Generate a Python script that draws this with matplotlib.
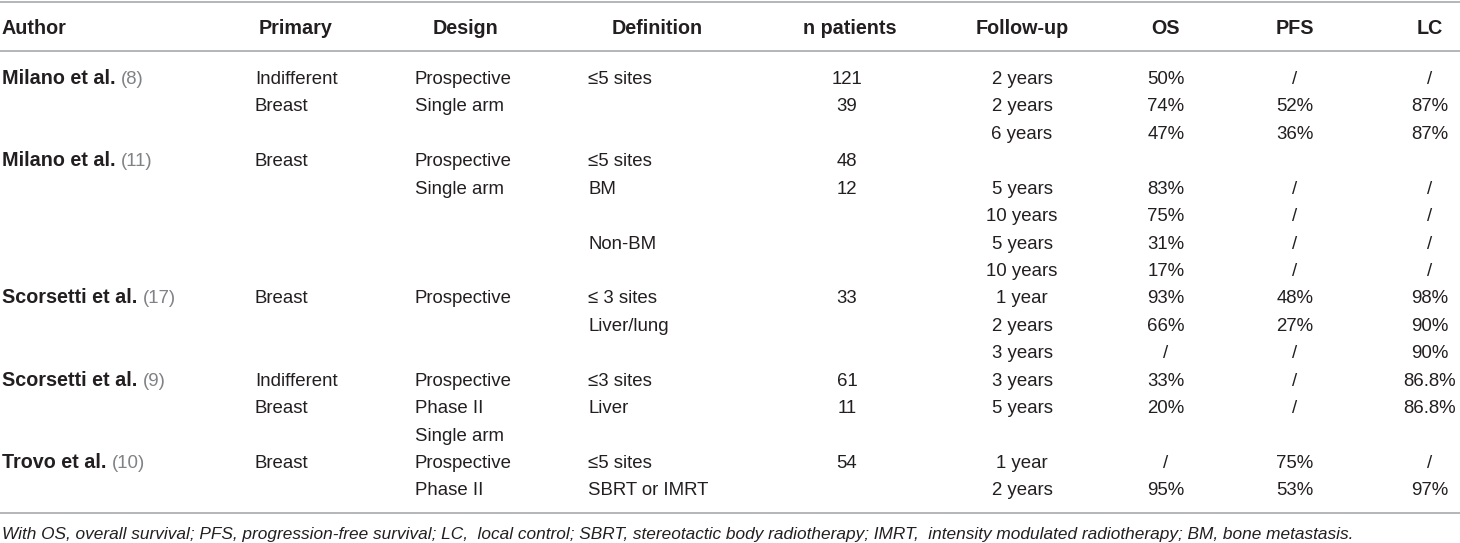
import matplotlib
matplotlib.use("Agg")
import matplotlib.pyplot as plt

# ---- data ----
headers = ["Author", "Primary", "Design", "Definition", "n patients", "Follow-up", "OS", "PFS", "LC"]
authors = ["Milano et al.", "", "", "Milano et al.", "", "", "", "", "Scorsetti et al.", "", "",
           "Scorsetti et al.", "", "", "Trovo et al.", ""]
refs = ["(8)", "", "", "(11)", "", "", "", "", "(17)", "", "", "(9)", "", "", "(10)", ""]
primary = ["Indifferent", "Breast", "", "Breast", "", "", "", "", "Breast", "", "",
           "Indifferent", "Breast", "", "Breast", ""]
design = ["Prospective", "Single arm", "", "Prospective", "Single arm", "", "", "", "Prospective", "", "",
          "Prospective", "Phase II", "Single arm", "Prospective", "Phase II"]
definition = ["≤5 sites", "", "", "≤5 sites", "BM", "", "Non-BM", "", "≤ 3 sites", "Liver/lung", "",
              "≤3 sites", "Liver", "", "≤5 sites", "SBRT or IMRT"]
n_patients = ["121", "39", "", "48", "12", "", "", "", "33", "", "", "61", "11", "", "54", ""]
follow_up = ["2 years", "2 years", "6 years", "", "5 years", "10 years", "5 years", "10 years",
             "1 year", "2 years", "3 years", "3 years", "5 years", "", "1 year", "2 years"]
os_vals = ["50%", "74%", "47%", "", "83%", "75%", "31%", "17%", "93%", "66%", "/", "33%", "20%", "", "/", "95%"]
pfs_vals = ["/", "52%", "36%", "", "/", "/", "/", "/", "48%", "27%", "/", "/", "/", "", "75%", "53%"]
lc_vals = ["/", "87%", "87%", "", "/", "/", "/", "/", "98%", "90%", "90%", "86.8%", "86.8%", "", "/", "97%"]
footnote = ("With OS, overall survival; PFS, progression-free survival; LC,  local control; "
            "SBRT, stereotactic body radiotherapy; IMRT,  intensity modulated radiotherapy; "
            "BM, bone metastasis.")

# ---- style ----
W, H = 1460, 543
TXT = "#231f20"
REF = "#808285"
RULE = "#a7a9ac"
FAM = ["Liberation Sans", "DejaVu Sans"]
BODY = 13.4
BOLD = 14.2

fig = plt.figure(figsize=(W / 100, H / 100), dpi=100)
ax = fig.add_axes([0, 0, 1, 1])
ax.set_xlim(0, W)
ax.set_ylim(H, 0)
ax.axis("off")

# rules
for y in (2, 51, 513):
    ax.plot([0, W], [y, y], color=RULE, lw=1.2, solid_capstyle="butt")

# header
hdr_base = 33.5
hdr_x = [2, 296, 466, 657, 850, 1022, 1166, 1295, 1430]
for i, (h, x) in enumerate(zip(headers, hdr_x)):
    ax.text(x, hdr_base, h, ha="left" if i == 0 else "center", va="baseline",
            fontsize=BOLD, fontweight="bold", color=TXT, family=FAM)

row0 = 84.0
step = 27.43
fig.canvas.draw()
renderer = fig.canvas.get_renderer()
inv = ax.transData.inverted()

left_cols = [(primary, 255), (design, 415), (definition, 588)]
center_cols = [(n_patients, 847), (follow_up, 1022), (os_vals, 1166), (pfs_vals, 1295), (lc_vals, 1430)]

for r in range(len(authors)):
    yb = row0 + step * r
    if authors[r]:
        t = ax.text(2, yb, authors[r], ha="left", va="baseline", fontsize=BOLD,
                    fontweight="bold", color=TXT, family=FAM)
        bb = t.get_window_extent(renderer=renderer)
        x1 = inv.transform((bb.x1, bb.y0))[0]
        ax.text(x1 + 5, yb, refs[r], ha="left", va="baseline", fontsize=BODY,
                color=REF, family=FAM)
    for col, x in left_cols:
        if col[r]:
            ax.text(x, yb, col[r], ha="left", va="baseline", fontsize=BODY,
                    color=TXT, family=FAM)
    for col, x in center_cols:
        if col[r]:
            ax.text(x, yb, col[r], ha="center", va="baseline", fontsize=BODY,
                    color=TXT, family=FAM)

ax.text(2, 539, footnote, ha="left", va="baseline", fontsize=12.4, style="italic",
        color=TXT, family=FAM)

fig.savefig("out.png", dpi=100)
